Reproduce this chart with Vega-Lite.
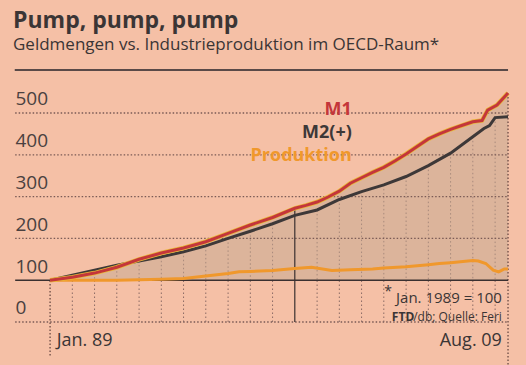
{
  "$schema": "https://vega.github.io/schema/vega-lite/v6.json",
  "width": 526,
  "height": 299,
  "autosize": {"type": "none"},
  "padding": {"left": 0, "top": 66, "right": 0, "bottom": 0},
  "background": "#f5c0a6",
  "config": {"view": {"stroke": null}, "font": "Open Sans"},
  "title": {
    "text": "Pump, pump, pump",
    "subtitle": "Geldmengen vs. Industrieproduktion im OECD-Raum*",
    "anchor": "start",
    "frame": "group",
    "dx": 13,
    "offset": 13,
    "font": "Open Sans",
    "fontSize": 23,
    "fontWeight": "bold",
    "color": "#3b3535",
    "subtitleFont": "Open Sans",
    "subtitleFontSize": 17,
    "subtitleColor": "#3b3535",
    "subtitlePadding": 4
  },
  "datasets": {
    "series": [
      {"s": "M1", "d": "1989-01-01", "v": 100},
      {"s": "M1", "d": "1990-01-01", "v": 107},
      {"s": "M1", "d": "1991-01-01", "v": 117},
      {"s": "M1", "d": "1992-01-01", "v": 131},
      {"s": "M1", "d": "1993-01-01", "v": 150},
      {"s": "M1", "d": "1994-01-01", "v": 165},
      {"s": "M1", "d": "1995-01-01", "v": 177},
      {"s": "M1", "d": "1996-01-01", "v": 192},
      {"s": "M1", "d": "1997-01-01", "v": 212},
      {"s": "M1", "d": "1998-01-01", "v": 232},
      {"s": "M1", "d": "1999-01-01", "v": 250},
      {"s": "M1", "d": "2000-01-01", "v": 272},
      {"s": "M1", "d": "2000-07-01", "v": 279},
      {"s": "M1", "d": "2001-01-01", "v": 287},
      {"s": "M1", "d": "2001-07-01", "v": 299},
      {"s": "M1", "d": "2002-01-01", "v": 313},
      {"s": "M1", "d": "2002-07-01", "v": 332},
      {"s": "M1", "d": "2003-01-01", "v": 345},
      {"s": "M1", "d": "2003-07-01", "v": 358},
      {"s": "M1", "d": "2004-01-01", "v": 370},
      {"s": "M1", "d": "2004-07-01", "v": 385},
      {"s": "M1", "d": "2005-01-01", "v": 402},
      {"s": "M1", "d": "2005-07-01", "v": 420},
      {"s": "M1", "d": "2006-01-01", "v": 438},
      {"s": "M1", "d": "2006-07-01", "v": 450},
      {"s": "M1", "d": "2007-01-01", "v": 461},
      {"s": "M1", "d": "2007-07-01", "v": 470},
      {"s": "M1", "d": "2008-01-01", "v": 479},
      {"s": "M1", "d": "2008-06-01", "v": 482},
      {"s": "M1", "d": "2008-09-01", "v": 507},
      {"s": "M1", "d": "2009-02-01", "v": 519},
      {"s": "M1", "d": "2009-08-01", "v": 548},
      {"s": "M2", "d": "1989-01-01", "v": 100},
      {"s": "M2", "d": "1990-01-01", "v": 112},
      {"s": "M2", "d": "1991-01-01", "v": 124},
      {"s": "M2", "d": "1992-01-01", "v": 136},
      {"s": "M2", "d": "1993-01-01", "v": 146},
      {"s": "M2", "d": "1994-01-01", "v": 156},
      {"s": "M2", "d": "1995-01-01", "v": 168},
      {"s": "M2", "d": "1996-01-01", "v": 182},
      {"s": "M2", "d": "1997-01-01", "v": 200},
      {"s": "M2", "d": "1998-01-01", "v": 217},
      {"s": "M2", "d": "1999-01-01", "v": 235},
      {"s": "M2", "d": "2000-01-01", "v": 255},
      {"s": "M2", "d": "2001-01-01", "v": 268},
      {"s": "M2", "d": "2002-01-01", "v": 293},
      {"s": "M2", "d": "2003-01-01", "v": 312},
      {"s": "M2", "d": "2004-01-01", "v": 328},
      {"s": "M2", "d": "2005-01-01", "v": 348},
      {"s": "M2", "d": "2006-01-01", "v": 374},
      {"s": "M2", "d": "2007-01-01", "v": 404},
      {"s": "M2", "d": "2008-01-01", "v": 443},
      {"s": "M2", "d": "2008-07-01", "v": 463},
      {"s": "M2", "d": "2008-10-01", "v": 470},
      {"s": "M2", "d": "2009-01-01", "v": 489},
      {"s": "M2", "d": "2009-08-01", "v": 491},
      {"s": "P", "d": "1989-01-01", "v": 100},
      {"s": "P", "d": "1990-01-01", "v": 100},
      {"s": "P", "d": "1991-01-01", "v": 100},
      {"s": "P", "d": "1992-01-01", "v": 100},
      {"s": "P", "d": "1993-01-01", "v": 101},
      {"s": "P", "d": "1994-01-01", "v": 102},
      {"s": "P", "d": "1995-01-01", "v": 104},
      {"s": "P", "d": "1996-01-01", "v": 110},
      {"s": "P", "d": "1997-01-01", "v": 116},
      {"s": "P", "d": "1997-07-01", "v": 120},
      {"s": "P", "d": "1998-01-01", "v": 121},
      {"s": "P", "d": "1999-01-01", "v": 123},
      {"s": "P", "d": "2000-01-01", "v": 128},
      {"s": "P", "d": "2000-10-01", "v": 131},
      {"s": "P", "d": "2001-09-01", "v": 123},
      {"s": "P", "d": "2002-07-01", "v": 125},
      {"s": "P", "d": "2003-07-01", "v": 127},
      {"s": "P", "d": "2004-01-01", "v": 129},
      {"s": "P", "d": "2005-01-01", "v": 132},
      {"s": "P", "d": "2006-01-01", "v": 137},
      {"s": "P", "d": "2006-07-01", "v": 140},
      {"s": "P", "d": "2007-01-01", "v": 142},
      {"s": "P", "d": "2008-01-01", "v": 147},
      {"s": "P", "d": "2008-04-01", "v": 146},
      {"s": "P", "d": "2008-08-01", "v": 140},
      {"s": "P", "d": "2008-12-01", "v": 124},
      {"s": "P", "d": "2009-03-01", "v": 120},
      {"s": "P", "d": "2009-06-01", "v": 127},
      {"s": "P", "d": "2009-08-01", "v": 127}
    ],
    "grid": [{"g": 0}, {"g": 200}, {"g": 300}, {"g": 400}, {"g": 500}],
    "years": [
      {"y": "1990-01-01", "t": 107}, {"y": "1991-01-01", "t": 117}, {"y": "1992-01-01", "t": 131}, {"y": "1993-01-01", "t": 146},
      {"y": "1994-01-01", "t": 156}, {"y": "1995-01-01", "t": 168}, {"y": "1996-01-01", "t": 182}, {"y": "1997-01-01", "t": 200},
      {"y": "1998-01-01", "t": 217}, {"y": "1999-01-01", "t": 235}, {"y": "2001-01-01", "t": 268},
      {"y": "2002-01-01", "t": 293}, {"y": "2003-01-01", "t": 312}, {"y": "2004-01-01", "t": 328}, {"y": "2005-01-01", "t": 348},
      {"y": "2006-01-01", "t": 374}, {"y": "2007-01-01", "t": 404}, {"y": "2008-01-01", "t": 443}, {"y": "2009-01-01", "t": 489}
    ]
  },
  "encoding": {
    "x": {"type": "temporal", "scale": {"domain": [{"year": 1986, "month": 10, "date": 2}, {"year": 2010, "month": 5, "date": 23}]}, "axis": null},
    "y": {"type": "quantitative", "scale": {"domain": [-102.9, 612.4], "nice": false, "zero": false}}
  },
  "layer": [
    {
      "data": {"name": "series"},
      "transform": [{"filter": "datum.s === 'M1'"}],
      "mark": {"type": "area", "color": "#dcb49b", "opacity": 1},
      "encoding": {"x": {"field": "d"}, "y": {"field": "v", "axis": {"values": [0, 100, 200, 300, 400, 500], "grid": false, "domain": false, "ticks": false, "title": null, "labelAlign": "left", "labelPadding": -15, "labelBaseline": "alphabetic", "labelOffset": -8, "labelFontSize": 19, "labelColor": "#4a4040", "labelFont": "Open Sans"}}, "y2": {"datum": 100}}
    },
    {
      "data": {"name": "years"},
      "mark": {"type": "rule", "color": "#a88a7c", "strokeDash": [1.5, 2.5], "strokeWidth": 1},
      "encoding": {"x": {"field": "y"}, "y": {"field": "t"}, "y2": {"datum": 100}}
    },
    {
      "data": {"name": "grid"},
      "mark": {"type": "rule", "color": "#7a5a55", "strokeDash": [1.5, 2], "strokeWidth": 1.3},
      "encoding": {"y": {"field": "g"}, "x": {"datum": {"year": 1987, "month": 6, "date": 8}}, "x2": {"datum": {"year": 2009, "month": 8, "date": 1}}}
    },
    {
      "data": {"name": "years"},
      "mark": {"type": "rule", "color": "#8a6a64", "strokeDash": [1.5, 2.5], "strokeWidth": 1},
      "encoding": {"x": {"field": "y"}, "y": {"datum": 0}, "y2": {"datum": 100}}
    },
    {
      "data": {"values": [{}]},
      "mark": {"type": "rule", "color": "#6a4a44", "strokeDash": [1.5, 2], "strokeWidth": 1.3},
      "encoding": {"x": {"datum": {"year": 1989, "month": 1, "date": 1}}, "y": {"datum": -80}, "y2": {"datum": 100}}
    },
    {
      "data": {"values": [{}]},
      "mark": {"type": "rule", "color": "#6a4a44", "strokeDash": [1.5, 2], "strokeWidth": 1.3},
      "encoding": {"x": {"datum": {"year": 2009, "month": 8, "date": 1}}, "y": {"datum": -102}, "y2": {"datum": 548}}
    },
    {
      "data": {"values": [{}]},
      "mark": {"type": "rule", "color": "#3a3030", "strokeWidth": 1.2},
      "encoding": {"x": {"datum": {"year": 2000, "month": 1, "date": 1}}, "y": {"datum": 0}, "y2": {"datum": 272}}
    },
    {
      "data": {"values": [{}]},
      "mark": {"type": "rule", "color": "#3a3030", "strokeWidth": 1.5},
      "encoding": {"y": {"datum": 100}, "x": {"datum": {"year": 1987, "month": 6, "date": 8}}, "x2": {"datum": {"year": 2009, "month": 8, "date": 1}}}
    },
    {
      "data": {"values": [{}]},
      "mark": {"type": "rule", "color": "#5a4a48", "strokeWidth": 2},
      "encoding": {"y": {"datum": 603}, "x": {"datum": {"year": 1987, "month": 6, "date": 1}}, "x2": {"datum": {"year": 2009, "month": 8, "date": 1}}}
    },
    {
      "data": {"name": "series"},
      "transform": [{"filter": "datum.s === 'P'"}],
      "mark": {"type": "line", "color": "#f0982c", "strokeWidth": 3},
      "encoding": {"x": {"field": "d"}, "y": {"field": "v"}}
    },
    {
      "data": {"name": "series"},
      "transform": [{"filter": "datum.s === 'M2'"}],
      "mark": {"type": "line", "color": "#3d3838", "strokeWidth": 3},
      "encoding": {"x": {"field": "d"}, "y": {"field": "v"}}
    },
    {
      "data": {"name": "series"},
      "transform": [{"filter": "datum.s === 'M1'"}],
      "mark": {"type": "line", "color": "#e8b838", "strokeWidth": 4.5},
      "encoding": {"x": {"field": "d"}, "y": {"field": "v"}}
    },
    {
      "data": {"name": "series"},
      "transform": [{"filter": "datum.s === 'M1'"}],
      "mark": {"type": "line", "color": "#c4363a", "strokeWidth": 3},
      "encoding": {"x": {"field": "d"}, "y": {"field": "v"}}
    },
    {
      "data": {"values": [{"t": "M1", "v": 507, "c": "#c4363a"}, {"t": "M2(+)", "v": 452, "c": "#3d3838"}, {"t": "Produktion", "v": 397, "c": "#f0982c"}]},
      "mark": {"type": "text", "align": "right", "baseline": "middle", "fontSize": 18, "fontWeight": "bold", "font": "Open Sans"},
      "encoding": {"x": {"datum": {"year": 2002, "month": 7, "date": 25}}, "y": {"field": "v"}, "text": {"field": "t"}, "color": {"field": "c", "type": "nominal", "scale": null}}
    },
    {
      "data": {"values": [{"t": "*"}]},
      "mark": {"type": "text", "align": "left", "baseline": "middle", "fontSize": 14, "color": "#3b3535", "font": "Open Sans"},
      "encoding": {"x": {"datum": {"year": 2004, "month": 1, "date": 10}}, "y": {"datum": 71}, "text": {"field": "t"}}
    },
    {
      "data": {"values": [{"t": "Jan. 1989 = 100"}]},
      "mark": {"type": "text", "align": "right", "baseline": "middle", "fontSize": 15, "color": "#3b3535", "font": "Open Sans"},
      "encoding": {"x": {"datum": {"year": 2009, "month": 4, "date": 22}}, "y": {"datum": 57}, "text": {"field": "t"}}
    },
    {
      "data": {"values": [{"t": "/db; Quelle: Feri"}]},
      "mark": {"type": "text", "align": "right", "baseline": "middle", "fontSize": 12, "color": "#3b3535", "font": "Open Sans"},
      "encoding": {"x": {"datum": {"year": 2009, "month": 4, "date": 22}}, "y": {"datum": 12}, "text": {"field": "t"}}
    },
    {
      "data": {"values": [{"t": "FTD"}]},
      "mark": {"type": "text", "align": "right", "baseline": "middle", "fontSize": 12, "fontWeight": "bold", "color": "#3b3535", "font": "Open Sans"},
      "encoding": {"x": {"datum": {"year": 2005, "month": 5, "date": 15}}, "y": {"datum": 12}, "text": {"field": "t"}}
    },
    {
      "data": {"values": [{"t": "Jan. 89"}]},
      "mark": {"type": "text", "align": "left", "baseline": "middle", "fontSize": 18, "color": "#3b3535", "font": "Open Sans"},
      "encoding": {"x": {"datum": {"year": 1989, "month": 4, "date": 20}}, "y": {"datum": -45}, "text": {"field": "t"}}
    },
    {
      "data": {"values": [{"t": "Aug. 09"}]},
      "mark": {"type": "text", "align": "right", "baseline": "middle", "fontSize": 18, "color": "#3b3535", "font": "Open Sans"},
      "encoding": {"x": {"datum": {"year": 2009, "month": 4, "date": 22}}, "y": {"datum": -45}, "text": {"field": "t"}}
    }
  ]
}
